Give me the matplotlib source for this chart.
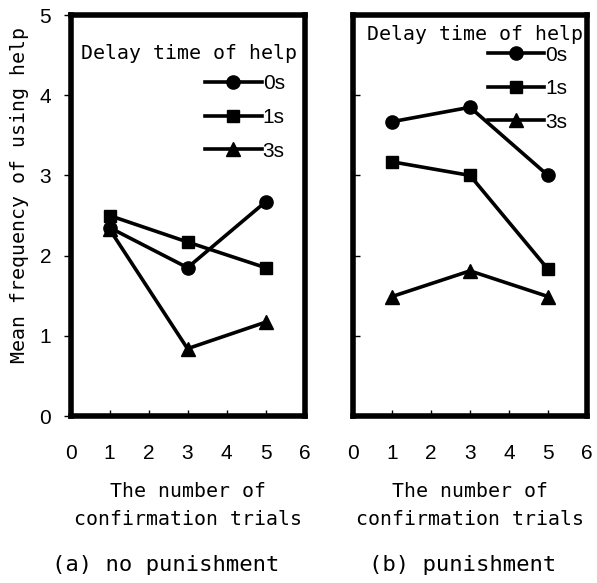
import matplotlib
matplotlib.use("Agg")
import matplotlib.pyplot as plt

# data
trials = [1, 3, 5]
delays = ["0s", "1s", "3s"]
markers = ["o", "s", "^"]
no_pun = {"0s": [2.35, 1.85, 2.67], "1s": [2.5, 2.17, 1.85], "3s": [2.33, 0.84, 1.17]}
pun = {"0s": [3.67, 3.85, 3.0], "1s": [3.17, 3.0, 1.83], "3s": [1.49, 1.81, 1.49]}
xticks = [0, 1, 2, 3, 4, 5, 6]
yticks = [0, 1, 2, 3, 4, 5]
captions = ["(a) no punishment", "(b) punishment"]

mono = "DejaVu Sans Mono"
sans = "Liberation Sans"

fig = plt.figure(figsize=(5.97, 5.83), dpi=100)
ax1 = fig.add_axes([0.1181, 0.2864, 0.392, 0.6878])
ax2 = fig.add_axes([0.5913, 0.2864, 0.392, 0.6878])

for ax, data in [(ax1, no_pun), (ax2, pun)]:
    for d, m in zip(delays, markers):
        ax.plot(trials, data[d], color="black", lw=2.6, marker=m, ms=9.5 if m != "s" else 8.5,
                label=d, clip_on=False)
    ax.set_xlim(0, 6)
    ax.set_ylim(0, 5)
    ax.set_xticks(xticks)
    ax.set_yticks(yticks)
    for s in ax.spines.values():
        s.set_linewidth(4)
    ax.tick_params(axis="x", direction="in", length=4, width=1, pad=20)
    for lab in ax.get_xticklabels():
        lab.set_fontfamily(sans)
        lab.set_fontsize(15)
    ax.set_xlabel("The number of\nconfirmation trials", fontfamily=mono, fontsize=14.3,
                  linespacing=1.6, va="center")
    ax.xaxis.set_label_coords(0.5, -0.224)

ax1.tick_params(axis="y", direction="out", length=5, width=1, pad=9)
for lab in ax1.get_yticklabels():
    lab.set_fontfamily(sans)
    lab.set_fontsize(15)
ax1.set_ylabel("Mean frequency of using help", fontfamily=mono, fontsize=14.3, va="center")
ax1.yaxis.set_label_coords(-0.216, 0.55)

ax2.tick_params(axis="y", direction="in", length=5, width=1, labelleft=False)

# legend titles and legends
ax1.text(0.968, 0.905, "Delay time of help", transform=ax1.transAxes, ha="right", va="center",
         fontfamily=mono, fontsize=14.3)
ax2.text(0.983, 0.952, "Delay time of help", transform=ax2.transAxes, ha="right", va="center",
         fontfamily=mono, fontsize=14.3)
leg_kw = dict(loc="upper right", frameon=False, borderpad=0, handlelength=2.7,
              handletextpad=0.05, labelspacing=0.7, prop={"family": sans, "size": 15})
ax1.legend(bbox_to_anchor=(0.96, 0.878), **leg_kw)
ax2.legend(bbox_to_anchor=(0.96, 0.95), **leg_kw)

fig.text(166 / 597, 1 - 565 / 583, captions[0], ha="center", va="center", fontfamily=mono, fontsize=16)
fig.text(463 / 597, 1 - 565 / 583, captions[1], ha="center", va="center", fontfamily=mono, fontsize=16)

fig.savefig("out.png", dpi=100)
